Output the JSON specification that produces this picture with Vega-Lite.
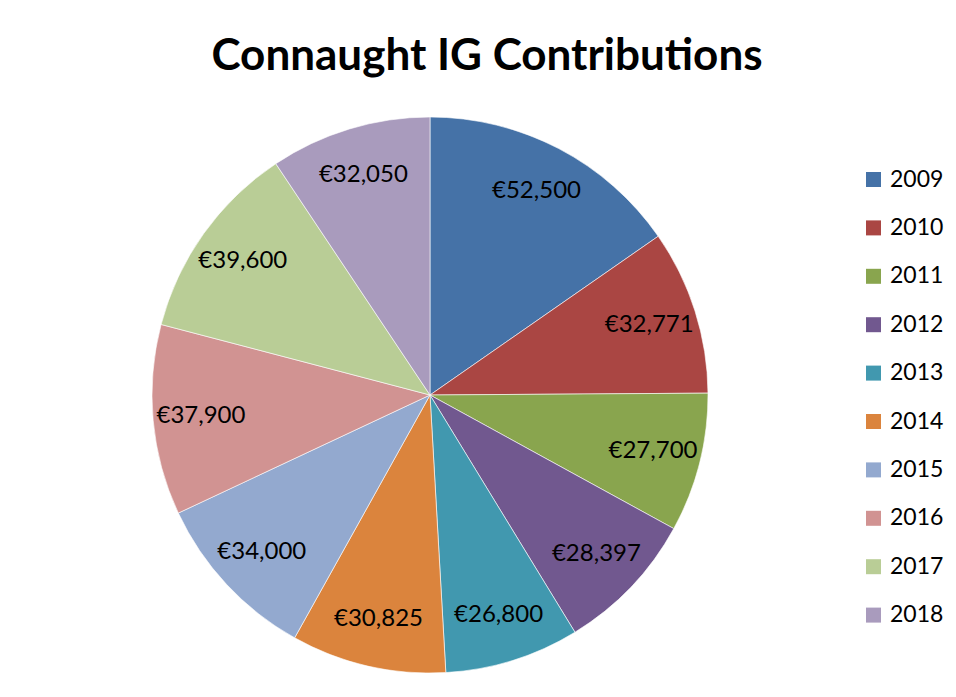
{
  "$schema": "https://vega.github.io/schema/vega-lite/v6.json",
  "width": 556,
  "height": 556,
  "autosize": {"type": "none"},
  "padding": {"left": 152, "top": 117, "right": 248, "bottom": 24},
  "background": "#ffffff",
  "title": {
    "text": "Connaught IG Contributions",
    "font": "Lato",
    "fontSize": 44,
    "fontWeight": "bold",
    "color": "#000000",
    "anchor": "middle",
    "baseline": "alphabetic",
    "offset": 2,
    "dx": 57
  },
  "data": {
    "values": [
      {"year": "2009", "amount": 52500},
      {"year": "2010", "amount": 32771},
      {"year": "2011", "amount": 27700},
      {"year": "2012", "amount": 28397},
      {"year": "2013", "amount": 26800},
      {"year": "2014", "amount": 30825},
      {"year": "2015", "amount": 34000},
      {"year": "2016", "amount": 37900},
      {"year": "2017", "amount": 39600},
      {"year": "2018", "amount": 32050}
    ]
  },
  "encoding": {
    "theta": {"field": "amount", "type": "quantitative", "stack": true},
    "order": {"field": "year", "type": "ordinal", "sort": "ascending"},
    "color": {
      "field": "year",
      "type": "nominal",
      "scale": {
        "domain": ["2009", "2010", "2011", "2012", "2013", "2014", "2015", "2016", "2017", "2018"],
        "range": ["#4572A7", "#AA4643", "#89A54E", "#71588F", "#4198AF", "#DB843D", "#93A9CF", "#D19392", "#B9CD96", "#A99BBD"]
      },
      "legend": {
        "title": null,
        "orient": "none",
        "legendX": 710,
        "legendY": 51,
        "symbolType": "square",
        "symbolSize": 225,
        "symbolStrokeWidth": 0,
        "symbolOpacity": 1,
        "labelFont": "Lato",
        "labelFontSize": 23,
        "labelColor": "#000000",
        "labelOffset": 5,
        "rowPadding": 24.4,
        "padding": 0
      }
    }
  },
  "layer": [
    {
      "mark": {"type": "arc", "outerRadius": 278, "stroke": "#ffffff", "strokeWidth": 0.6}
    },
    {
      "mark": {"type": "text", "radius": 230, "font": "Lato", "fontSize": 24, "color": "#000000"},
      "encoding": {
        "text": {"field": "amount", "type": "quantitative", "format": "$,.0f", "formatType": "number"},
        "color": {"value": "#000000"}
      }
    }
  ],
  "config": {
    "view": {"stroke": null},
    "locale": {"number": {"decimal": ".", "thousands": ",", "grouping": [3], "currency": ["€", ""]}}
  }
}
